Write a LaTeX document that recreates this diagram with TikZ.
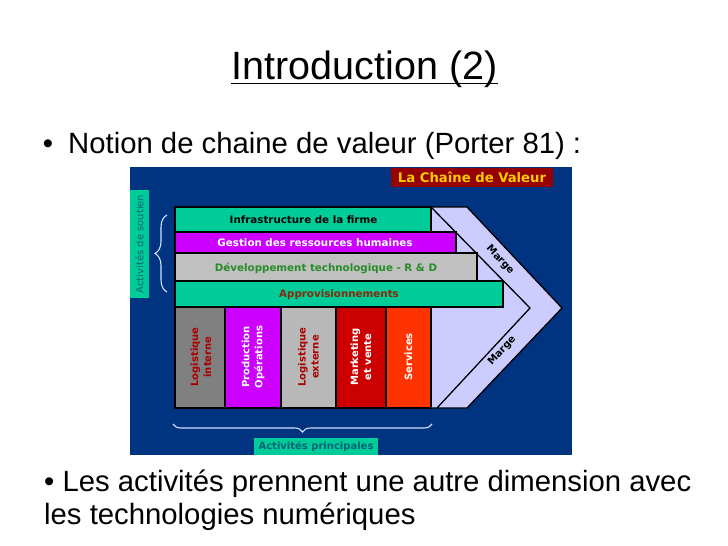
\documentclass[tikz,border=0pt]{standalone}
\usepackage{fontspec}
\setmainfont{Liberation Sans}
\newfontfamily\dvsans{DejaVu Sans}
\usetikzlibrary{decorations.pathreplacing}
\definecolor{panel}{RGB}{0,51,128}
\definecolor{teal1}{RGB}{0,204,153}
\definecolor{magenta1}{RGB}{204,0,255}
\definecolor{gray1}{RGB}{192,192,192}
\definecolor{gray2}{RGB}{128,128,128}
\definecolor{gray3}{RGB}{184,184,184}
\definecolor{red1}{RGB}{204,0,0}
\definecolor{orange1}{RGB}{255,51,0}
\definecolor{lav}{RGB}{204,204,255}
\definecolor{titlered}{RGB}{150,0,0}
\definecolor{yellow1}{RGB}{255,204,0}
\definecolor{darkred1}{RGB}{170,0,0}
\definecolor{green1}{RGB}{40,140,40}
\definecolor{brown1}{RGB}{140,40,10}
\definecolor{labteal}{RGB}{0,100,120}
\definecolor{bracecol}{RGB}{210,225,255}
\begin{document}
\begin{tikzpicture}[x=1pt,y=-1pt,
  slide/.style={inner sep=0pt, font=\fontsize{29.3}{34}\selectfont},
  bar/.style={draw=black, line width=1.3pt},
  bartext/.style={inner sep=0pt, font=\dvsans\bfseries\fontsize{10.3}{12}\selectfont},
  coltext/.style={inner sep=0pt, rotate=90, align=center, font=\dvsans\bfseries\fontsize{10}{13}\selectfont},
  margetext/.style={inner sep=0pt, font=\dvsans\bfseries\fontsize{10}{12}\selectfont},
  bracestyle/.style={draw=bracecol, line width=1.1pt, decorate}
]
\useasboundingbox[fill=white] (0,0) rectangle (728,546);

% slide texts
\node[inner sep=0pt, anchor=base, font=\fontsize{39.5}{46}\selectfont] (title) at (364.5,79) {Introduction (2)};
\draw[line width=1.8pt] ([yshift=-4.5pt]title.base west) -- ([yshift=-4.5pt]title.base east);
\node[slide, anchor=base] (b1) at (48,153) {•};
\node[slide, anchor=base west] (l1) at (68,153) {Notion de chaine de valeur (Porter 81) :};
\node[slide, anchor=base west] (l2) at (44,491) {• Les activités prennent une autre dimension avec};
\node[slide, anchor=base west] (l3) at (44,524) {les technologies numériques};

% panel
\fill[panel] (130,167) rectangle (572,455);
\node[fill=titlered, minimum width=162pt, minimum height=19pt, inner sep=0pt,
  text=yellow1, font=\dvsans\bfseries\fontsize{13.2}{15}\selectfont] (ctitle) at (472,177.5) {La Chaîne de Valeur};

% chevron
\draw[fill=lav, line width=1.3pt] (175,207) -- (467,207) -- (562,308) -- (467,408) -- (175,408) -- cycle;
\coordinate (itop) at (431,207);
\coordinate (itip) at (530,308);
\coordinate (ibot) at (437,408);
\draw[line width=1.3pt] (itop) -- (itip) -- (ibot);

% support bars
\draw[bar, fill=teal1] (175,207) rectangle (431,232);
\draw[bar, fill=magenta1] (175,232) rectangle (456,253);
\draw[bar, fill=gray1] (175,253) rectangle (477,281);
\draw[bar, fill=teal1] (175,281) rectangle (503,307);
\node[bartext, text=black] (infra) at (303.5,220) {Infrastructure de la firme};
\node[bartext, text=white] (grh) at (315,243) {Gestion des ressources humaines};
\node[bartext, text=green1] (rd) at (326,268) {Développement technologique - R \& D};
\node[bartext, text=brown1] (appro) at (339,295) {Approvisionnements};

% primary columns
\draw[bar, fill=gray2] (175,307) rectangle (225,408);
\draw[bar, fill=magenta1] (225,307) rectangle (281,408);
\draw[bar, fill=gray3] (281,307) rectangle (336,408);
\draw[bar, fill=red1] (336,307) rectangle (386,408);
\draw[bar, fill=orange1] (386,307) rectangle (431,408);
\node[coltext, text=darkred1] (li) at (201,357) {Logistique\\interne};
\node[coltext, text=white] (po) at (253,357) {Production\\Opérations};
\node[coltext, text=darkred1] (le) at (308.5,357) {Logistique\\externe};
\node[coltext, text=white] (mv) at (361,357) {Marketing\\et vente};
\node[coltext, text=white] (sv) at (408.5,357) {Services};

% marge labels
\node[margetext, rotate=-47] (m1) at (500,260) {Marge};
\node[margetext, rotate=47] (m2) at (502,351) {Marge};

% support label and brace
\node[fill=teal1, minimum width=19pt, minimum height=108pt, inner sep=0pt] (soutienbox) at (139.5,244) {};
\node[inner sep=0pt, rotate=90, text=labteal, font=\dvsans\fontsize{10}{12}\selectfont] (soutien) at (soutienbox.center) {Activités de soutien};
\coordinate (bs1) at (167,292);
\coordinate (bs2) at (167,215);
\draw[bracestyle, decoration={brace, amplitude=12pt}] (bs1) -- (bs2);

% primary label and brace
\node[fill=teal1, minimum width=124pt, minimum height=17pt, inner sep=0pt,
  text=labteal, font=\dvsans\bfseries\fontsize{10}{12}\selectfont] (princ) at (316,446.5) {Activités principales};
\coordinate (bp1) at (432,424);
\coordinate (bp2) at (173,424);
\draw[bracestyle, decoration={brace, amplitude=8pt}] (bp1) -- (bp2);
\end{tikzpicture}
\end{document}
